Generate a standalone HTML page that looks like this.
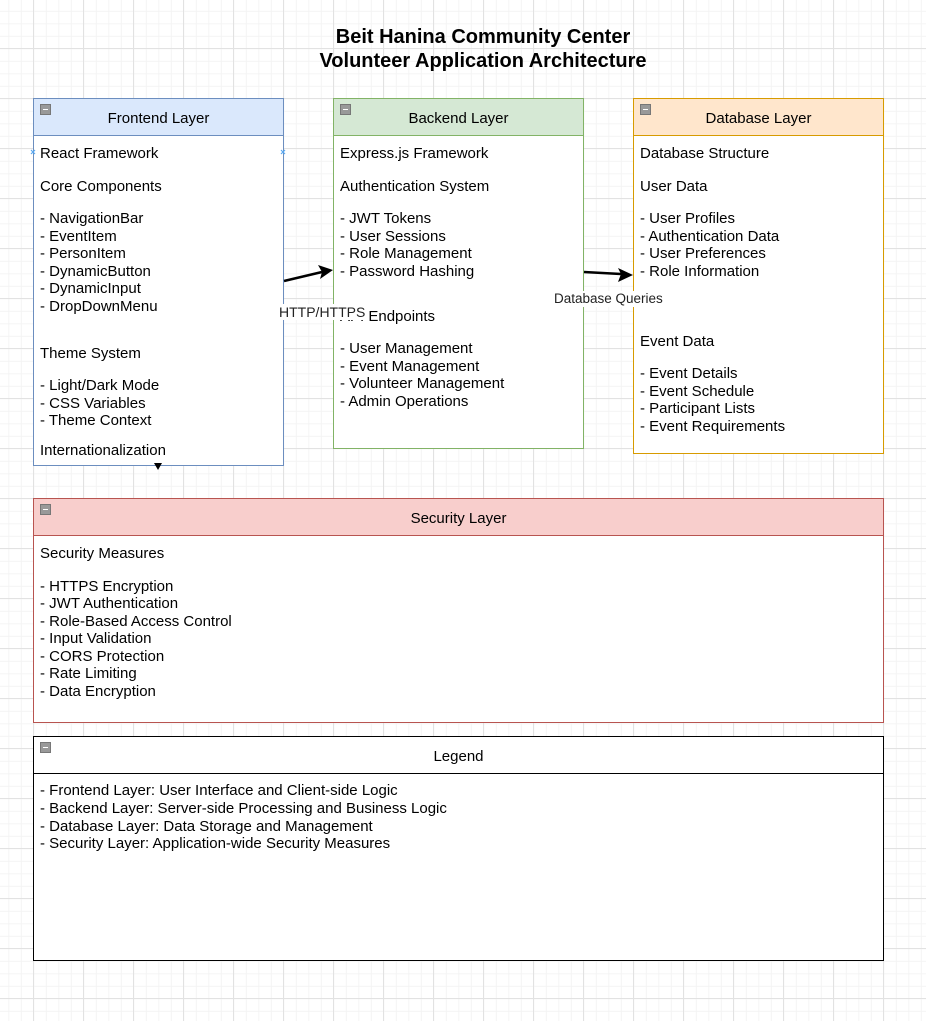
<!DOCTYPE html>
<html><head><meta charset="utf-8"><style>
html,body{margin:0;padding:0}
body{width:926px;height:1021px;position:relative;overflow:hidden;background-color:#fff;
background-image:linear-gradient(to right,#e2e2e2 1px,transparent 1px),linear-gradient(to bottom,#e2e2e2 1px,transparent 1px),linear-gradient(to right,#f4f4f4 1px,transparent 1px),linear-gradient(to bottom,#f4f4f4 1px,transparent 1px);
background-size:50px 50px,50px 50px,12.5px 12.5px,12.5px 12.5px;
background-position:33px 48px,33px 48px,8.3px 10.8px,8.3px 10.8px;
font-family:"Liberation Sans",Arial,sans-serif;color:#000}
.box{position:absolute;box-sizing:border-box;border:1px solid;background:#fff}
.hd{position:absolute;left:0;right:0;top:0;height:37px;box-sizing:border-box;border-bottom:1px solid;text-align:center;line-height:40px;font-size:15px}
.ic{position:absolute;left:6px;top:5px;width:11px;height:11px;background:#999;border:1px solid #777;box-sizing:border-box}
.ic:after{content:"";position:absolute;left:2px;right:2px;top:4px;height:1px;background:#fff}
.t{position:absolute;font-size:15px;white-space:nowrap;line-height:16px;margin-top:2px}
.title{position:absolute;left:20px;width:926px;text-align:center;font-weight:bold;font-size:20px}
</style></head><body>
<div class="title" style="top:26px">Beit Hanina Community Center</div>
<div class="title" style="top:50px">Volunteer Application Architecture</div>

<div class="box" style="left:33px;top:98px;width:251px;height:368px;border-color:#6c8ebf"><div class="hd" style="background:#dae8fc;border-color:#6c8ebf">Frontend Layer</div><div class="ic"></div></div>
<div class="box" style="left:333px;top:98px;width:251px;height:351px;border-color:#82b366"><div class="hd" style="background:#d5e8d4;border-color:#82b366">Backend Layer</div><div class="ic"></div></div>
<div class="box" style="left:633px;top:98px;width:251px;height:356px;border-color:#d79b00"><div class="hd" style="background:#ffe6cc;border-color:#d79b00">Database Layer</div><div class="ic"></div></div>
<div class="box" style="left:33px;top:498px;width:851px;height:225px;border-color:#b85450"><div class="hd" style="background:#f8cecc;border-color:#b85450">Security Layer</div><div class="ic"></div></div>
<div class="box" style="left:33px;top:736px;width:851px;height:225px;border-color:#000"><div class="hd" style="background:#fff;border-color:#000">Legend</div><div class="ic"></div></div>

<div class="t" style="left:40px;top:144px">React Framework</div>
<div class="t" style="left:40px;top:177px">Core Components</div>
<div class="t" style="left:40px;top:209px">- NavigationBar</div>
<div class="t" style="left:40px;top:227px">- EventItem</div>
<div class="t" style="left:40px;top:244px">- PersonItem</div>
<div class="t" style="left:40px;top:262px">- DynamicButton</div>
<div class="t" style="left:40px;top:279px">- DynamicInput</div>
<div class="t" style="left:40px;top:297px">- DropDownMenu</div>
<div class="t" style="left:40px;top:344px">Theme System</div>
<div class="t" style="left:40px;top:376px">- Light/Dark Mode</div>
<div class="t" style="left:40px;top:394px">- CSS Variables</div>
<div class="t" style="left:40px;top:411px">- Theme Context</div>
<div class="t" style="left:40px;top:441px">Internationalization</div>

<div class="t" style="left:340px;top:144px">Express.js Framework</div>
<div class="t" style="left:340px;top:177px">Authentication System</div>
<div class="t" style="left:340px;top:209px">- JWT Tokens</div>
<div class="t" style="left:340px;top:227px">- User Sessions</div>
<div class="t" style="left:340px;top:244px">- Role Management</div>
<div class="t" style="left:340px;top:262px">- Password Hashing</div>
<div class="t" style="left:340px;top:307px">API Endpoints</div>
<div class="t" style="left:340px;top:339px">- User Management</div>
<div class="t" style="left:340px;top:357px">- Event Management</div>
<div class="t" style="left:340px;top:374px">- Volunteer Management</div>
<div class="t" style="left:340px;top:392px">- Admin Operations</div>

<div class="t" style="left:640px;top:144px">Database Structure</div>
<div class="t" style="left:640px;top:177px">User Data</div>
<div class="t" style="left:640px;top:209px">- User Profiles</div>
<div class="t" style="left:640px;top:227px">- Authentication Data</div>
<div class="t" style="left:640px;top:244px">- User Preferences</div>
<div class="t" style="left:640px;top:262px">- Role Information</div>
<div class="t" style="left:640px;top:332px">Event Data</div>
<div class="t" style="left:640px;top:364px">- Event Details</div>
<div class="t" style="left:640px;top:382px">- Event Schedule</div>
<div class="t" style="left:640px;top:399px">- Participant Lists</div>
<div class="t" style="left:640px;top:417px">- Event Requirements</div>

<div class="t" style="left:40px;top:544px">Security Measures</div>
<div class="t" style="left:40px;top:577px">- HTTPS Encryption</div>
<div class="t" style="left:40px;top:594px">- JWT Authentication</div>
<div class="t" style="left:40px;top:612px">- Role-Based Access Control</div>
<div class="t" style="left:40px;top:629px">- Input Validation</div>
<div class="t" style="left:40px;top:647px">- CORS Protection</div>
<div class="t" style="left:40px;top:664px">- Rate Limiting</div>
<div class="t" style="left:40px;top:682px">- Data Encryption</div>

<div class="t" style="left:40px;top:781px">- Frontend Layer: User Interface and Client-side Logic</div>
<div class="t" style="left:40px;top:799px">- Backend Layer: Server-side Processing and Business Logic</div>
<div class="t" style="left:40px;top:817px">- Database Layer: Data Storage and Management</div>
<div class="t" style="left:40px;top:834px">- Security Layer: Application-wide Security Measures</div>

<div class="t" style="left:279px;top:302px;background:#fff;font-size:14px;color:#222">HTTP/HTTPS</div>
<div class="t" style="left:554px;top:289px;background:#fff;font-size:13.5px;color:#222">Database Queries</div>

<svg width="926" height="1021" style="position:absolute;left:0;top:0" xmlns="http://www.w3.org/2000/svg">
<line x1="284" y1="281" x2="322" y2="272" stroke="#000" stroke-width="2.5"/>
<polygon points="333,270 318,265 322,272 320,279" fill="#000"/>
<line x1="584" y1="272" x2="621" y2="274" stroke="#000" stroke-width="2.5"/>
<polygon points="633,275 618,268 621,274 618,282" fill="#000"/>
<polygon points="154,463 162,463 158,470" fill="#000"/>
<g stroke="#5aa8f0" stroke-width="1.2"><line x1="31" y1="150" x2="35" y2="154"/><line x1="35" y1="150" x2="31" y2="154"/><line x1="281" y1="150" x2="285" y2="154"/><line x1="285" y1="150" x2="281" y2="154"/></g>
</svg>
</body></html>
